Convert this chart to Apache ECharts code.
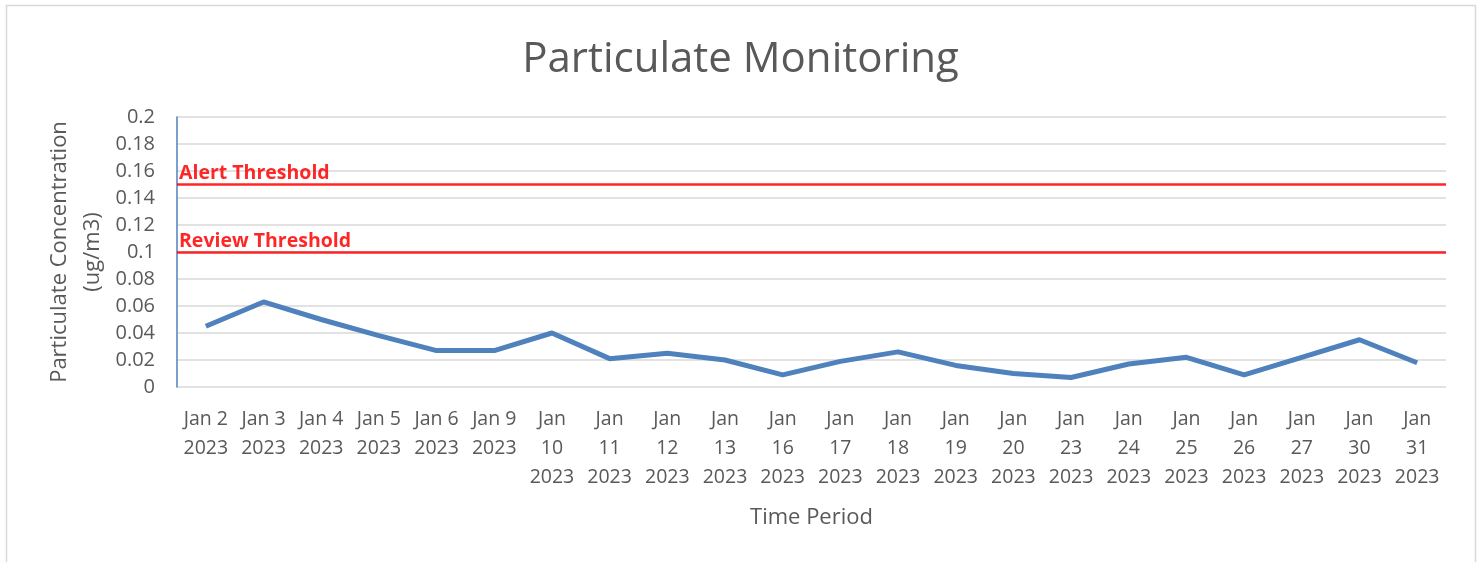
<!DOCTYPE html>
<html><head><meta charset="utf-8">
<script src="https://cdn.jsdelivr.net/npm/echarts@6/dist/echarts.min.js"></script>
<style>html,body{margin:0;padding:0;background:#fff}#c{width:1481px;height:562px}</style>
</head><body><div id="c"></div>
<script>
const categories = ["Jan 2 2023","Jan 3 2023","Jan 4 2023","Jan 5 2023","Jan 6 2023","Jan 9 2023","Jan 10 2023","Jan 11 2023","Jan 12 2023","Jan 13 2023","Jan 16 2023","Jan 17 2023","Jan 18 2023","Jan 19 2023","Jan 20 2023","Jan 23 2023","Jan 24 2023","Jan 25 2023","Jan 26 2023","Jan 27 2023","Jan 30 2023","Jan 31 2023"];
const concentration = [0.045,0.063,0.050,0.038,0.027,0.027,0.040,0.021,0.025,0.020,0.009,0.019,0.026,0.016,0.010,0.007,0.017,0.022,0.009,0.022,0.035,0.018];
const alertThreshold = 0.15;
const reviewThreshold = 0.1;
const yTicks = {min:0, max:0.2, interval:0.02};

const font = "'Open Sans', 'Noto Sans', sans-serif";
const chart = echarts.init(document.getElementById('c'));
chart.setOption({
  animation:false,
  backgroundColor:'#fff',
  graphic:[{type:'rect',shape:{x:6.5,y:5.5,width:1469,height:600},style:{fill:'none',stroke:'#d9d9d9',lineWidth:1.5}}],
  title:{text:'Particulate Monitoring',left:'center',top:34,textStyle:{fontFamily:font,fontSize:42,fontWeight:'normal',color:'#595959'}},
  grid:{left:177,right:35,top:117,bottom:175},
  xAxis:{type:'category',data:categories,boundaryGap:true,
    name:'Time Period',nameLocation:'middle',nameGap:120,
    nameTextStyle:{fontFamily:font,fontSize:22,color:'#595959'},
    axisLine:{show:false},axisTick:{show:false},
    axisLabel:{interval:0,fontFamily:font,fontSize:19.5,color:'#595959',lineHeight:29,margin:18,
      formatter:function(v){const p=v.split(' ');return p[1].length>1?p.join('\n'):(p[0]+' '+p[1]+'\n'+p[2]);}}},
  yAxis:{type:'value',min:yTicks.min,max:yTicks.max,interval:yTicks.interval,
    name:'Particulate Concentration\n(ug/m3)',nameLocation:'middle',nameGap:68,nameMoveOverlap:false,
    nameTextStyle:{fontFamily:font,fontSize:22,color:'#595959',lineHeight:33},
    axisLine:{show:true,lineStyle:{color:'#4f81bd',width:1.5}},axisTick:{show:false},
    axisLabel:{fontFamily:font,fontSize:20,color:'#595959',margin:22,
      formatter:function(v){return String(parseFloat(v.toFixed(2)));}},
    splitLine:{lineStyle:{color:'#d9d9d9',width:1.5}}},
  series:[{type:'line',data:concentration,symbol:'none',lineStyle:{color:'#4f81bd',width:5},
    markLine:{silent:true,symbol:'none',
      lineStyle:{color:'#ff0000',width:2.5,type:'solid',opacity:0.85},
      label:{position:'insideStartTop',distance:[2,1],fontFamily:font,fontSize:19.5,fontWeight:'bold',color:'#ff0000'},
      data:[{yAxis:alertThreshold,label:{formatter:'Alert Threshold'}},{yAxis:reviewThreshold,label:{formatter:'Review Threshold'}}]}}]
});
</script></body></html>
